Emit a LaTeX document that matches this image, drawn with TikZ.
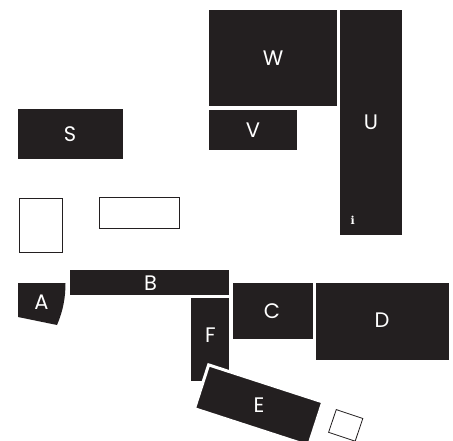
\documentclass[tikz,border=0pt]{standalone}
\usepackage{fontspec}
\setmainfont{Poppins}
\newfontfamily\infofont{DejaVu Serif}
\usepackage{tikz}
\definecolor{roomdark}{HTML}{231F20}

\begin{document}
\begin{tikzpicture}[
  x=1pt, y=-1pt,
  font=\fontsize{21}{24}\selectfont,
  room/.style={fill=roomdark, text=white, inner sep=0pt, outer sep=0pt, align=center},
  free/.style={draw=roomdark, line width=0.8pt, fill=white, inner sep=0pt},
  tag/.style={text=white, inner sep=0pt}
]
\useasboundingbox (0,0) rectangle (453,441);
% upper block
\node[room, minimum width=128pt, minimum height=96pt] (w) at (273,58) {W};
\node[room, minimum width=88pt, minimum height=40pt] (v) at (253,130) {V};
\node[room, minimum width=62pt, minimum height=225pt] (u) at (371,122.5) {U};
\node[tag, font=\infofont\bfseries\fontsize{11}{11}\selectfont] (info) at (352.8,220.5) {i};
% left side
\node[room, minimum width=105pt, minimum height=50pt] (s) at (70,134) {S};
\node[free, minimum width=43.5pt, minimum height=54pt] (free1) at (41,225) {};
\node[free, minimum width=80pt, minimum height=30.5pt] (free2) at (139.5,213) {};
% lower block
\fill[roomdark] (18,283) -- (65.5,283) .. controls (65.5,298) and (63,311) .. (57,325) -- (18,317) -- cycle;
\node[tag] (a) at (41.5,302) {A};
\node[room, minimum width=159pt, minimum height=25pt] (b) at (149.5,282.5) {};
\node[tag] (blabel) at (150.5,283) {B};
\node[room, minimum width=80pt, minimum height=56pt] (c) at (273,311) {};
\node[tag] (clabel) at (272,311) {C};
\node[room, minimum width=133pt, minimum height=77pt] (d) at (382.5,321.5) {};
\node[tag] (dlabel) at (382,320) {D};
\node[room, minimum width=38pt, minimum height=83pt] (f) at (210,339.5) {};
\node[tag] (flabel) at (210.5,335) {F};
% turned pieces
\node[room, draw=white, line width=3pt, minimum width=120pt, minimum height=46pt, rotate=-18] (e) at (258.6,405.3) {};
\node[tag] (elabel) at (259,405.3) {E};
\node[free, minimum width=28pt, minimum height=24pt, rotate=-18.5] (free3) at (345.7,425.4) {};
\end{tikzpicture}
\end{document}
